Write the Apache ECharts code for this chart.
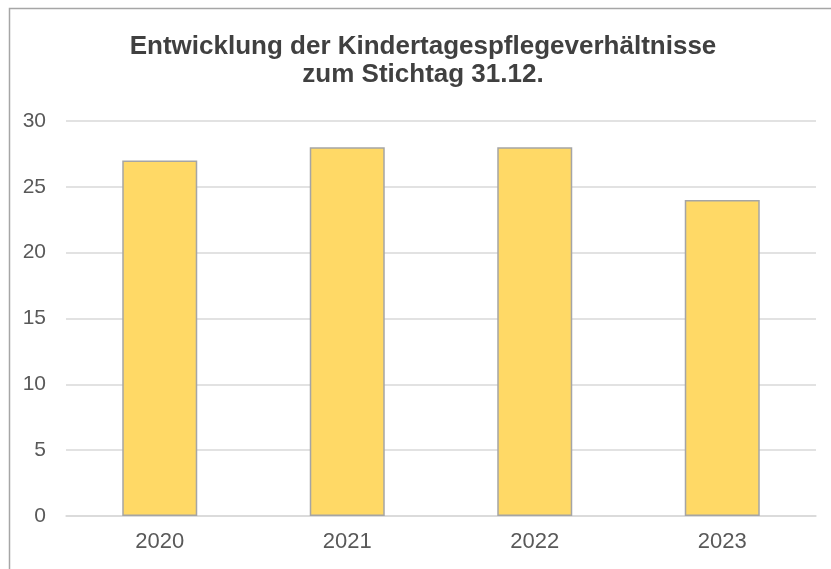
<!DOCTYPE html>
<html><head><meta charset="utf-8">
<script src="https://cdn.jsdelivr.net/npm/echarts@6/dist/echarts.min.js"></script>
<style>html,body{margin:0;padding:0;background:#fff}#c{width:831px;height:569px}</style>
</head><body><div id="c"></div>
<script>
const categories = ['2020', '2021', '2022', '2023'];
const values = [27, 28, 28, 24];
const titleText = 'Entwicklung der Kindertagespflegeverhältnisse\nzum Stichtag 31.12.';

const chart = echarts.init(document.getElementById('c'));
chart.setOption({
  animation: false,
  backgroundColor: '#fff',
  graphic: [{
    type: 'rect', left: 7, top: 6,
    shape: { width: 1000, height: 1000 },
    style: { fill: 'none', stroke: '#a6a6a6', lineWidth: 1.5 }, z: -1
  }, {
    type: 'text', x: 423, y: 33,
    style: {
      text: titleText, textAlign: 'center', textVerticalAlign: 'top',
      fontFamily: 'Liberation Sans, Arial', fontWeight: 'bold', fontSize: 26,
      fill: '#404040', lineHeight: 28
    }
  }],
  grid: { left: 66, right: 15, top: 121, bottom: 53, containLabel: false },
  xAxis: {
    type: 'category', data: categories,
    axisLine: { show: true, lineStyle: { color: '#d9d9d9', width: 1.5 } },
    axisTick: { show: false },
    axisLabel: { color: '#595959', fontSize: 22, fontFamily: 'Liberation Sans, Arial', margin: 15 }
  },
  yAxis: {
    type: 'value', min: 0, max: 30, interval: 5,
    axisLine: { show: false }, axisTick: { show: false },
    splitLine: { lineStyle: { color: '#d9d9d9', width: 1.5 } },
    axisLabel: { color: '#595959', fontSize: 21, fontFamily: 'Liberation Sans, Arial', margin: 20 }
  },
  series: [{
    type: 'bar', data: values, barWidth: '40%',
    itemStyle: { color: '#FFD966', borderColor: '#a5a5a5', borderWidth: 1.5 }
  }]
});
</script></body></html>
